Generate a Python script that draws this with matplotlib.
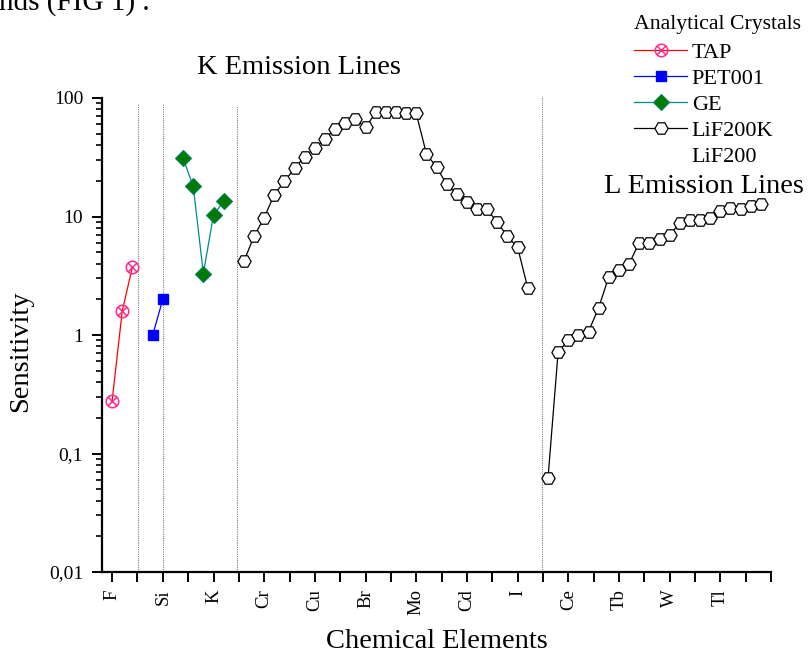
import matplotlib
matplotlib.use("Agg")
import matplotlib.pyplot as plt
from matplotlib.path import Path
from matplotlib.lines import Line2D
import numpy as np

plt.rcParams['font.family'] = ['Liberation Serif', 'DejaVu Serif']

# ---------------- data ----------------
tap_x = [9, 10, 11]
tap_y = [0.28, 1.6, 3.75]

pet_x = [13, 14]
pet_y = [1.0, 2.0]

ge_x = [16, 17, 18, 19, 20]
ge_y = [31, 18, 3.3, 10.3, 13.4]

lifk_x = list(range(22, 51))
lifk_y = [4.2, 6.8, 9.8, 15.3, 19.8, 25.5, 32, 38, 45, 55, 61, 66, 56.5,
          75.5, 75.5, 75.5, 75, 74, 34, 26, 18.8, 15.5, 13.3, 11.5, 11.5,
          8.9, 6.8, 5.5, 2.5]

lifl_x = list(range(52, 74))
lifl_y = [0.062, 0.72, 0.9, 1.0, 1.07, 1.7, 3.1, 3.55, 4.0, 6.0, 6.0, 6.5,
          7.0, 8.8, 9.3, 9.3, 9.7, 11.2, 11.7, 11.6, 12.2, 12.8]

x_tick_pos = [9 + 2.5 * i for i in range(27)]
x_tick_names = ['F', 'Si', 'K', 'Cr', 'Cu', 'Br', 'Mo', 'Cd', 'I', 'Ce', 'Tb', 'W', 'Tl', '']

y_tick_vals = [0.01, 0.1, 1, 10, 100]
y_tick_labels = ['0,01', '0,1', '1', '10', '100']

divider_x = [11.6, 14.05, 21.35, 51.36]
divider_top = [89, 89, 86, 104]

# ---------------- figure ----------------
fig = plt.figure(figsize=(8.10, 6.55), dpi=100)
ax = fig.add_axes([102 / 810, 83 / 655, (771 - 102) / 810, (572 - 98) / 655])

ax.set_yscale('log')
ax.set_xlim(8, 74)
ax.set_ylim(0.01, 100)

for s in ['top', 'right']:
    ax.spines[s].set_visible(False)
for s in ['left', 'bottom']:
    ax.spines[s].set_linewidth(1.6)

# dividers
for xv, top in zip(divider_x, divider_top):
    ax.plot([xv, xv], [0.01, top], color='#808080', lw=0.8, ls=(0, (1, 1)),
            clip_on=False, zorder=1)

# circled-x marker
circ = Path.unit_circle()
d = 0.7071
cross1 = Path([[-d, -d], [d, d]], [Path.MOVETO, Path.LINETO])
cross2 = Path([[-d, d], [d, -d]], [Path.MOVETO, Path.LINETO])
circx = Path.make_compound_path(circ, cross1, cross2)

ax.plot(tap_x, tap_y, color='#ff0000', lw=0.9, marker=circx, ms=9,
        mfc='none', mec='#ff2a8a', mew=1.1, label='TAP', zorder=3)
ax.plot(pet_x, pet_y, color='#0000ff', lw=0.9, marker='s', ms=7.5,
        mfc='#0000ff', mec='#0000ff', label='PET001', zorder=3)
ax.plot(ge_x, ge_y, color='#008b8b', lw=0.9, marker='D', ms=8.5,
        mfc='#007a00', mec='#00806a', mew=0.8, label='GE', zorder=3)
ax.plot(lifk_x, lifk_y, color='black', lw=0.9, marker='H', ms=9.5,
        mfc='white', mec='black', mew=0.9, label='LiF200K', zorder=3)
ax.plot(lifl_x, lifl_y, color='black', lw=0.9, marker='H', ms=9.5,
        mfc='white', mec='black', mew=0.9, zorder=3, clip_on=False)

# ticks
ax.set_xticks(x_tick_pos)
labels = []
for i in range(len(x_tick_pos)):
    labels.append(x_tick_names[i // 2] if i % 2 == 0 else '')
ax.set_xticklabels(labels, rotation=90, fontsize=13.5)
ax.tick_params(axis='x', which='major', direction='out', length=7, width=1.4, pad=5.5)

ax.set_yticks(y_tick_vals)
ax.set_yticklabels(y_tick_labels, fontsize=14)
ax.yaxis.set_minor_locator(matplotlib.ticker.LogLocator(base=10, subs=np.arange(2, 10)))
ax.yaxis.set_minor_formatter(matplotlib.ticker.NullFormatter())
ax.tick_params(axis='y', which='major', direction='out', length=7.5, width=1.4, pad=6)
ax.tick_params(axis='y', which='minor', direction='out', length=4.5, width=1.2)

# texts
fig.text(436.5 / 810, 7 / 655, 'Chemical Elements', ha='center', va='baseline', fontsize=20.5)
fig.text(21 / 810, 1 - 351 / 655, 'Sensitivity', ha='center', va='center',
         rotation=90, fontsize=20.5)
fig.text(298.5 / 810, 1 - 74 / 655, 'K Emission Lines', ha='center', va='baseline', fontsize=20.5)
fig.text(804 / 810, 1 - 193 / 655, 'L Emission Lines', ha='right', va='baseline', fontsize=20.5)
fig.text(-1 / 810, 1 - 10 / 655, 'nds (FIG 1) .', ha='left', va='baseline', fontsize=21)

# legend
handles, labs = ax.get_legend_handles_labels()
handles.append(Line2D([], [], ls='none', marker='none'))
labs.append('LiF200')
leg = fig.legend(handles, labs, title='Analytical Crystals', loc='upper left',
                 bbox_to_anchor=(634 / 810, 1 - 15 / 655), frameon=False,
                 fontsize=16, title_fontsize=15.7, borderpad=0, labelspacing=0.25,
                 handlelength=2.4, handletextpad=0.2, alignment='left',
                 borderaxespad=0)
leg._legend_box.sep = 6

fig.savefig('out.png', dpi=100)
